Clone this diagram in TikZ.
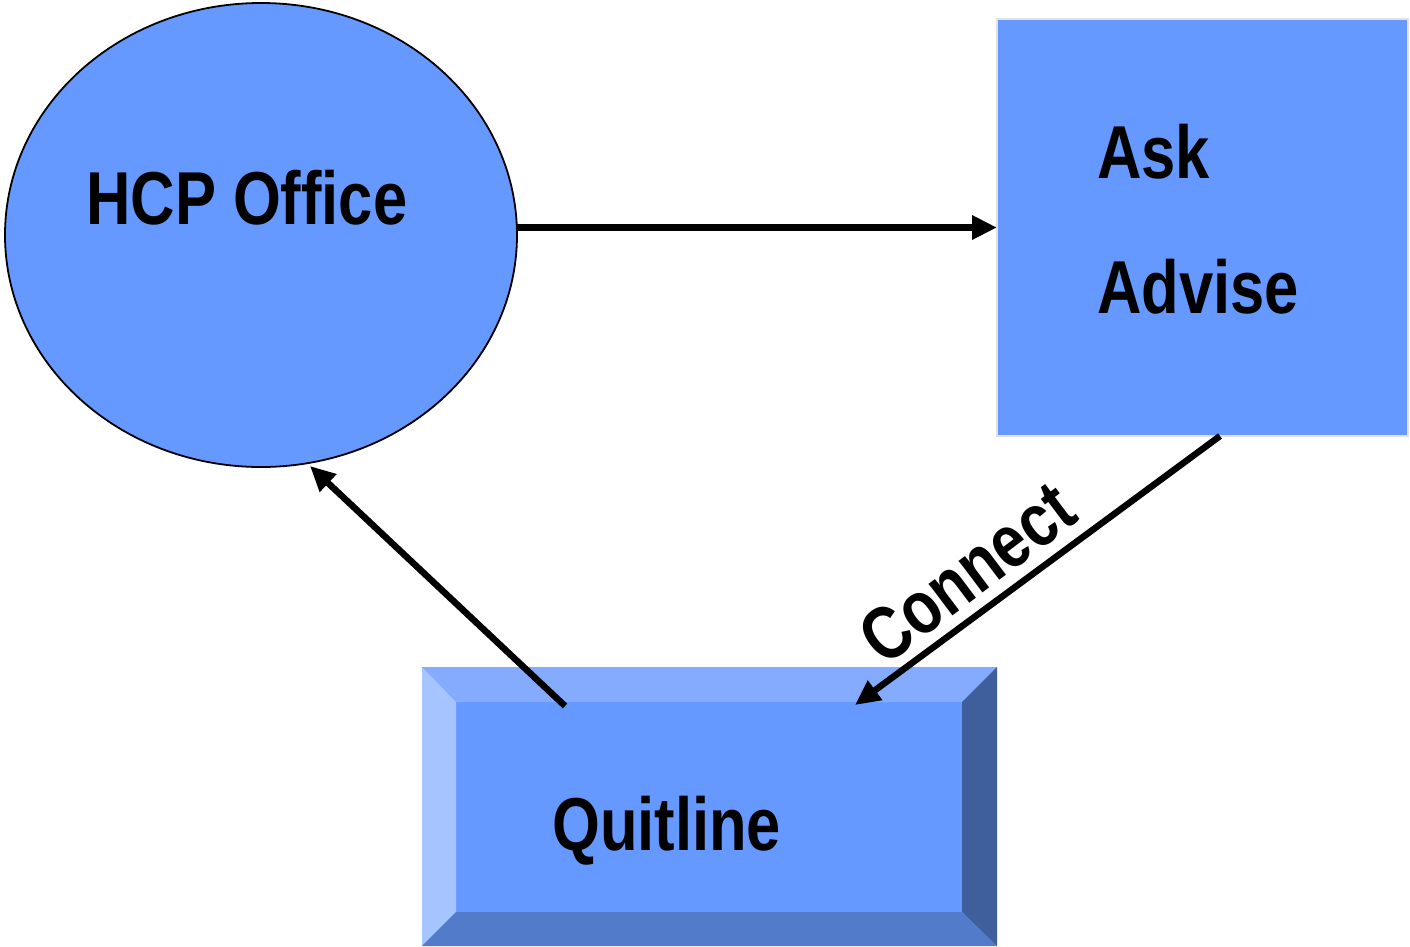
\documentclass[tikz,border=0pt]{standalone}
\usepackage{fontspec}
\setmainfont[FakeStretch=0.82]{Liberation Sans}
\usetikzlibrary{arrows.meta,calc,shapes.geometric}
\definecolor{mainblue}{RGB}{102,153,255}
\definecolor{bevtop}{RGB}{133,171,255}
\definecolor{bevleft}{RGB}{166,196,255}
\definecolor{bevright}{RGB}{63,94,156}
\definecolor{bevbot}{RGB}{82,123,201}
\definecolor{boxedge}{RGB}{225,225,230}
\begin{document}
\begin{tikzpicture}[x=1pt,y=-1pt,
  lbl/.style={font=\fontsize{75}{90}\selectfont\bfseries, inner sep=0pt},
  arr/.style={line width=6.5pt, -{Triangle[length=25pt,width=23pt]}},
  shp/.style={inner sep=0pt, outer sep=0pt}]
\useasboundingbox (0,0) rectangle (1410,946);
\fill[white] (0,0) rectangle (1410,946);
% HCP Office ellipse
\node[shp, ellipse, draw=black, line width=1.8pt, fill=mainblue,
  minimum width=512pt, minimum height=464pt] (hcp) at (261,235) {};
\node[lbl, anchor=base west] (hcptxt) at (86,224) {HCP Office};
% Ask / Advise box
\node[shp, rectangle, draw=boxedge, line width=1.5pt, fill=mainblue,
  minimum width=411pt, minimum height=417pt] (aa) at (1202.5,227.5) {};
\node[lbl, anchor=base west] (asktxt) at (1097,178) {Ask};
\node[lbl, anchor=base west] (advtxt) at (1097,313) {Advise};
% Quitline bevelled box
\node[shp, rectangle, fill=mainblue,
  minimum width=575pt, minimum height=279pt] (ql) at (709.5,806.5) {};
\coordinate (qiNW) at ($(ql.north west)+(34,35)$);
\coordinate (qiNE) at ($(ql.north east)+(-35,35)$);
\coordinate (qiSW) at ($(ql.south west)+(34,-34)$);
\coordinate (qiSE) at ($(ql.south east)+(-35,-34)$);
\fill[bevtop] (ql.north west) -- (ql.north east) -- (qiNE) -- (qiNW) -- cycle;
\fill[bevleft] (ql.north west) -- (qiNW) -- (qiSW) -- (ql.south west) -- cycle;
\fill[bevright] (ql.north east) -- (ql.south east) -- (qiSE) -- (qiNE) -- cycle;
\fill[bevbot] (ql.south west) -- (qiSW) -- (qiSE) -- (ql.south east) -- cycle;
\node[lbl, anchor=base west] (qltxt) at (552,850) {Quitline};
% connectors
\draw[arr] (aa.west -| hcp.east) -- (aa.west);
\draw[arr] ($(ql.north west)+(143,39)$) -- ($(hcp.south)+(49,-1)$);
\draw[arr] ($(aa.south)+(17.5,0)$) -- ($(ql.north west)+(433,38)$);
\node[lbl, rotate=37] (conn) at (967,573) {Connect};
\end{tikzpicture}
\end{document}
